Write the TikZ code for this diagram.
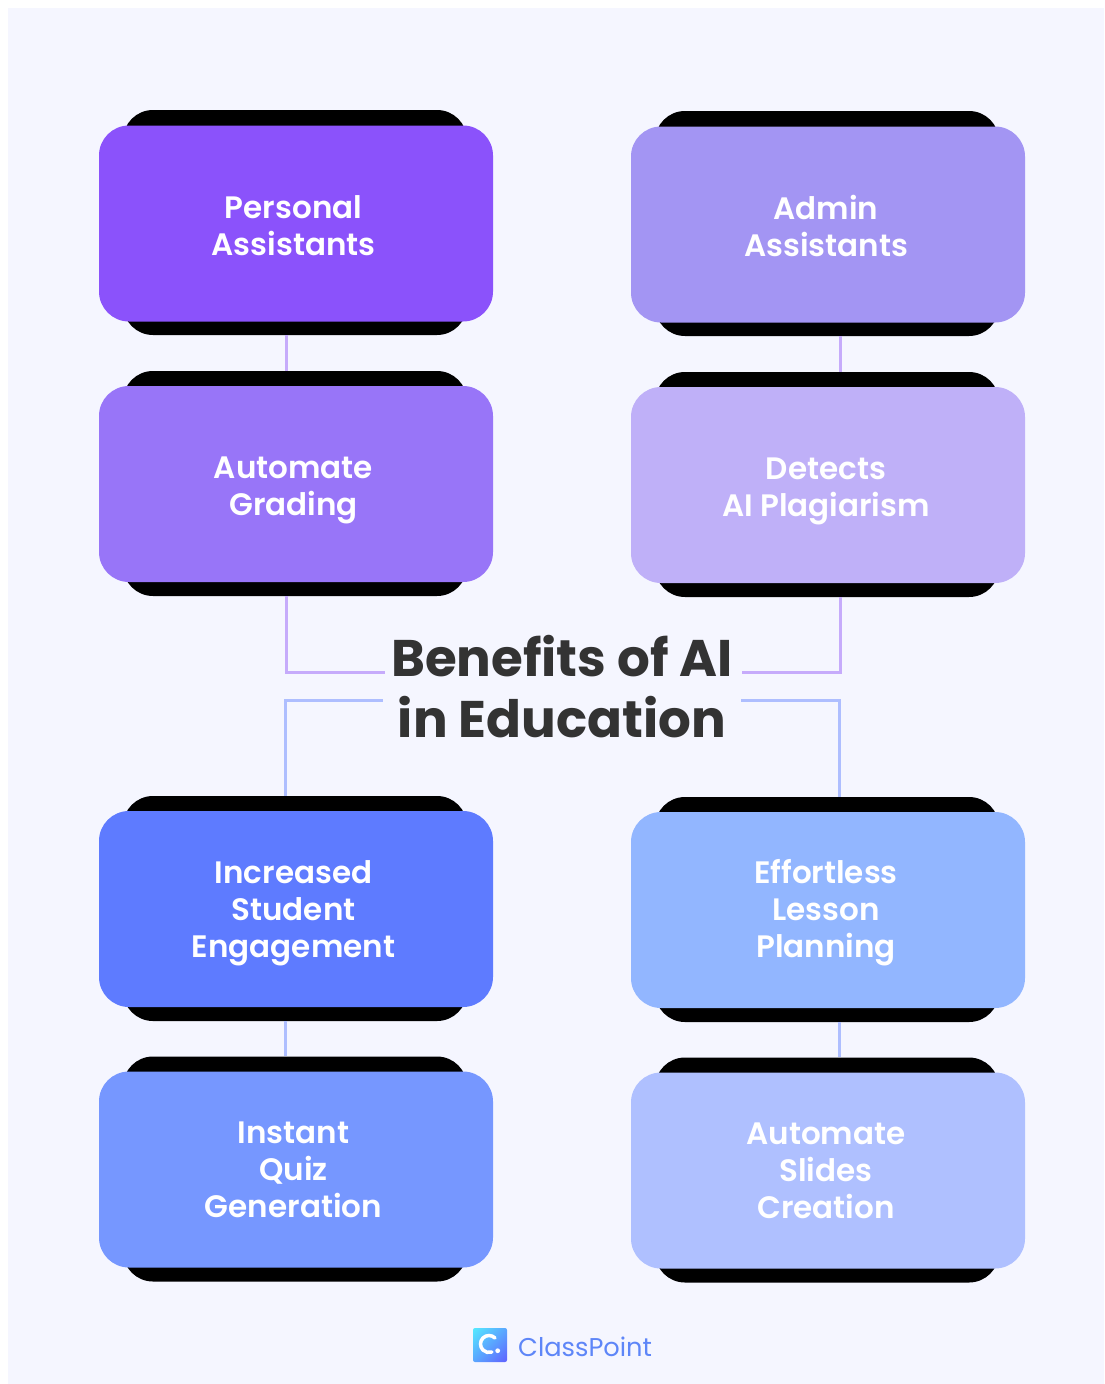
\documentclass[tikz,border=0pt]{standalone}
\usepackage{fontspec}
\usetikzlibrary{shadings}
\setmainfont{Poppins}
\newfontfamily\labelfont{Poppins SemiBold}
\newfontfamily\titlefont{Poppins}[UprightFont=* Bold]
\newfontfamily\logofont{Poppins}
\definecolor{panelbg}{HTML}{F5F6FF}
\definecolor{purA}{HTML}{8B52FB}
\definecolor{purB}{HTML}{9875F8}
\definecolor{purC}{HTML}{A395F3}
\definecolor{purD}{HTML}{BFB0F8}
\definecolor{bluA}{HTML}{5E7BFF}
\definecolor{bluB}{HTML}{7697FF}
\definecolor{bluC}{HTML}{92B6FF}
\definecolor{bluD}{HTML}{AFC0FF}
\definecolor{linkpur}{HTML}{C6ABFB}
\definecolor{linkblu}{HTML}{AEBEFF}
\definecolor{titleink}{HTML}{333333}
\definecolor{logoink}{HTML}{5E86F8}
\definecolor{logoUL}{HTML}{55EAFF}
\definecolor{logoMD}{HTML}{5AA5FF}
\definecolor{logoLR}{HTML}{6060FF}
\tikzset{
  x=1pt,y=-1pt,
  backing/.style={fill=black,rounded corners=30pt,minimum width=344pt,minimum height=225pt,inner sep=0pt,draw=none},
  card/.style={fill=#1,rounded corners=30pt,minimum width=394pt,minimum height=196pt,inner sep=0pt,draw=none},
  cardtext/.style={text=white,align=center,font=\fontsize{31}{37}\labelfont,inner sep=0pt},
  linkP/.style={draw=linkpur,line width=3pt},
  linkB/.style={draw=linkblu,line width=3pt},
}
\begin{document}
\begin{tikzpicture}
\useasboundingbox (0,0) rectangle (1104,1384);
\fill[white] (0,0) rectangle (1104,1384);
\fill[panelbg] (8,8) rectangle (1104,1384);
% connector free ends and rails
\coordinate (pl) at (385,672.5);
\coordinate (pr) at (742,672.5);
\coordinate (bl) at (383,700.5);
\coordinate (br) at (741,700.5);
\coordinate (xa) at (286,0);
\coordinate (xb) at (840,0);
\coordinate (xc) at (285,0);
\coordinate (xd) at (839,0);
% backings
\node[backing] (k1) at (295,222.5) {};
\node[backing] (k2) at (295,483.5) {};
\node[backing] (k3) at (827,223.5) {};
\node[backing] (k4) at (827,484.5) {};
\node[backing] (k5) at (295,908.5) {};
\node[backing] (k6) at (295,1169) {};
\node[backing] (k7) at (827,909.5) {};
\node[backing] (k8) at (827,1170) {};
% connectors
\draw[linkP] (k1.south -| xa) -- (k2.north -| xa);
\draw[linkP] (k3.south -| xb) -- (k4.north -| xb);
\draw[linkB] (k5.south -| xc) -- (k6.north -| xc);
\draw[linkB] (k7.south -| xd) -- (k8.north -| xd);
\draw[linkP] (k2.south -| xa) |- (pl);
\draw[linkP] (k4.south -| xb) |- (pr);
\draw[linkB] (k5.north -| xc) |- (bl);
\draw[linkB] (k7.north -| xd) |- (br);
% cards
\node[card=purA] (c1) at (296,223.5) {};
\node[card=purB] (c2) at (296,484) {};
\node[card=purC] (c3) at (828,224.5) {};
\node[card=purD] (c4) at (828,485) {};
\node[card=bluA] (c5) at (296,909) {};
\node[card=bluB] (c6) at (296,1169.5) {};
\node[card=bluC] (c7) at (828,910) {};
\node[card=bluD] (c8) at (828,1170.5) {};
% labels
\node[cardtext] (t1) at (293.5,225.5) {Personal\\Assistants};
\node[cardtext] (t2) at (293.5,490) {Automate\\Grading};
\node[cardtext] (t3) at (826,225.5) {Admin\\Assistants};
\node[cardtext] (t4) at (826,491) {Detects\\AI Plagiarism};
\node[cardtext] (t5) at (293.5,913) {Increased\\Student\\Engagement};
\node[cardtext] (t6) at (293.5,1169.5) {Instant\\Quiz\\Generation};
\node[cardtext] (t7) at (826,913) {Effortless\\Lesson\\Planning};
\node[cardtext] (t8) at (826,1170.5) {Automate\\Slides\\Creation};
% title
\node[text=titleink,align=center,font=\fontsize{51.5}{61}\titlefont,inner sep=0pt] (title) at (562,687) {Benefits of AI\\in Education};
% logo
\shade[rounded corners=2pt,upper left=logoUL,lower right=logoLR,upper right=logoMD,lower left=logoMD] (473,1328) rectangle (507,1362);
\draw[white,line width=3.5pt,line cap=round] (489,1344) ++(-45:8.5) arc[start angle=-45,end angle=-290,radius=8.5];
\fill[white] (497.7,1350.7) circle[radius=2.4];
\node[text=logoink,font=\fontsize{25.7}{32}\logofont,anchor=base west,inner sep=0pt] (logo) at (518,1356) {ClassPoint};
\end{tikzpicture}
\end{document}
